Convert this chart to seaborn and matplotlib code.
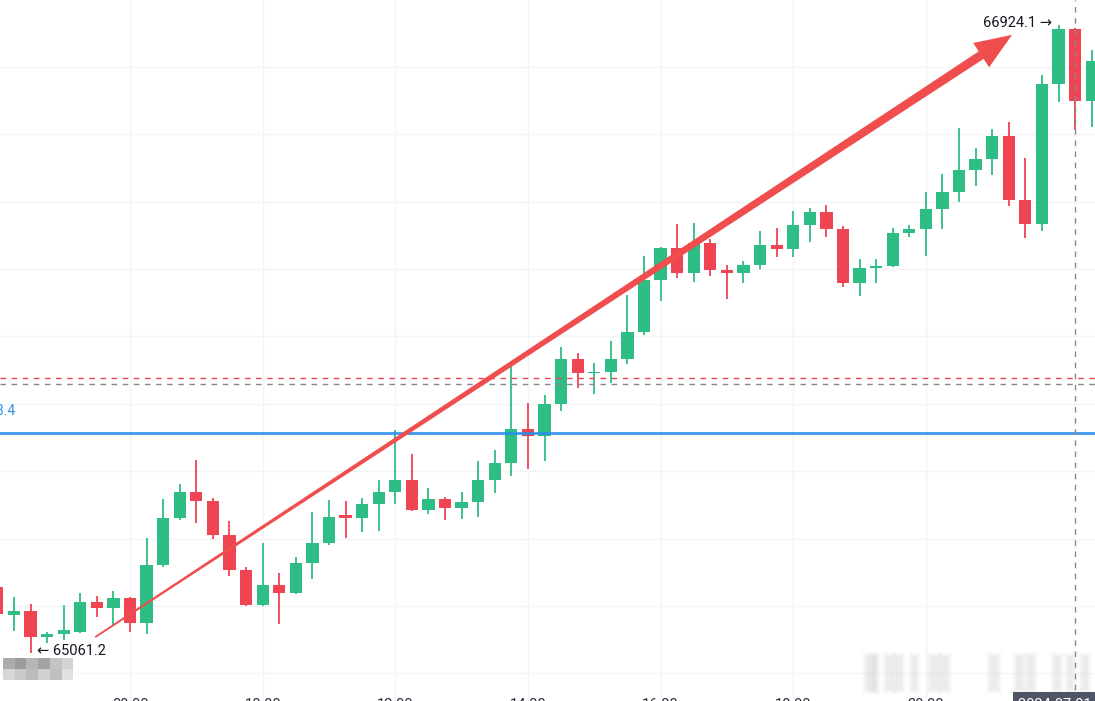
import numpy as np
import pandas as pd
import matplotlib
matplotlib.use("Agg")
import matplotlib.pyplot as plt
from matplotlib.patches import Polygon, Rectangle
from matplotlib.transforms import IdentityTransform, blended_transform_factory
import seaborn as sns

# 15-min свечи, индекс 0 = 08:00
idx = list(range(-8, 59))
opens = [65258, 65175, 65186, 65107, 65118, 65124, 65212, 65193,
         65223, 65151, 65321, 65461, 65539, 65511, 65411, 65307,
         65203, 65262, 65238, 65328, 65388, 65470, 65462, 65503,
         65539, 65573, 65485, 65518, 65492, 65510, 65573, 65625,
         65725, 65705, 65800, 65932, 65891, 65896, 65932, 66014,
         66168, 66262, 66189, 66276, 66197, 66187, 66211, 66271,
         66259, 66331, 66370, 66318, 66158, 66202, 66208, 66306,
         66318, 66377, 66430, 66494, 66527, 66595, 66405, 66333,
         66749, 66911, 66700]
highs = [65266, 65228, 65205, 65123, 65202, 65238, 65231, 65245,
         65226, 65401, 65519, 65561, 65634, 65520, 65452, 65315,
         65386, 65297, 65347, 65479, 65515, 65513, 65520, 65573,
         65722, 65650, 65550, 65525, 65539, 65630, 65662, 65925,
         65802, 65825, 65970, 65950, 65922, 65987, 66124, 66239,
         66266, 66333, 66338, 66288, 66212, 66224, 66313, 66321,
         66372, 66380, 66390, 66328, 66229, 66229, 66321, 66331,
         66428, 66482, 66618, 66558, 66615, 66635, 66529, 66776,
         66924.1, 66915, 66850]
lows = [65168, 65126, 65061.2, 65090, 65099, 65120, 65167, 65143,
        65124, 65116, 65316, 65455, 65448, 65398, 65290, 65200,
        65201, 65146, 65236, 65281, 65380, 65403, 65420, 65423,
        65503, 65483, 65472, 65455, 65459, 65464, 65535, 65586,
        65606, 65631, 65780, 65848, 65829, 65863, 65917, 66003,
        66105, 66173, 66163, 66179, 66110, 66160, 66199, 66237,
        66237, 66281, 66294, 66148, 66120, 66158, 66205, 66294,
        66239, 66318, 66398, 66447, 66479, 66387, 66291, 66313,
        66697, 66613, 66622]
closes = [65176, 65186, 65107, 65117, 65128, 65212, 65193, 65223,
          65151, 65321, 65461, 65539, 65511, 65411, 65307, 65203,
          65262, 65238, 65328, 65388, 65465, 65462, 65503, 65539,
          65573, 65485, 65518, 65492, 65510, 65573, 65625, 65725,
          65705, 65800, 65932, 65891, 65896, 65932, 66014, 66168,
          66262, 66189, 66276, 66197, 66187, 66211, 66271, 66259,
          66331, 66370, 66318, 66158, 66202, 66208, 66306, 66318,
          66377, 66430, 66494, 66527, 66595, 66405, 66333, 66749,
          66911, 66700, 66817]

tick_pos = [0, 8, 16, 24, 32, 40, 48]
tick_labels = ["08:00", "10:00", "12:00", "14:00", "16:00", "18:00", "20:00"]

hi_label, lo_label = 66924.1, 65061.2
alert_price = 65713.4       # синяя линия
last_price = 65877          # красный пунктир
cross_price = 65859         # серый пунктир (перекрестие)
cross_idx = 57
cross_label = "2024-07-01 22:15"

# стрелка-рисунок: начало и конец (свеча, цена)
arrow_x = [-2.1, 53.2]
arrow_y = [65108, 66895]

UP, DOWN = "#2EBD85", "#EF4452"

df = pd.DataFrame({"i": idx, "open": opens, "high": highs, "low": lows, "close": closes})
df["up"] = df["close"] >= df["open"]
df["color"] = np.where(df["up"], UP, DOWN)

sns.set_theme(style="white")
plt.rcParams["font.family"] = ["Roboto", "DejaVu Sans"]

fig = plt.figure(figsize=(10.95, 7.01), dpi=100)
ax = fig.add_axes([0, 0, 1, 1])
ax.set_xlim(-7.84, 58.2)
ax.set_ylim(64918.4, 66998.3)

# сетка
ax.set_yticks(np.arange(65000, 67000, 200))
ax.set_xticks(tick_pos, labels=tick_labels)
ax.grid(True, color="#f3f4f7", lw=1)
ax.tick_params(axis="y", length=0, labelleft=False)
ax.tick_params(axis="x", length=0, pad=-2.3, labelsize=10.5, labelcolor="#2a2e39")
for s in ax.spines.values():
    s.set_visible(False)

# свечи
body = (df["close"] - df["open"]).abs().clip(lower=3)
bottom = df[["open", "close"]].min(axis=1)
ax.vlines(df["i"], df["low"], df["high"], colors=df["color"], lw=1.3, zorder=2)
ax.bar(df["i"], body, bottom=bottom, width=0.74, color=df["color"], lw=0, zorder=3)

# горизонтальные линии
ax.axhline(alert_price, color="#2a8ee8", lw=2, zorder=4, alpha=0.9)
ax.axhline(last_price, color="#EF4452", lw=1, ls=(0, (4, 4)), zorder=4)
ax.axhline(cross_price, color="#868993", lw=1, ls=(0, (4, 4)), zorder=4)
ax.axvline(cross_idx, color="#868993", lw=1, ls=(0, (4, 4)), zorder=4)

ax.text(-6.94, 65778, "65713.4", ha="right", va="center", fontsize=10,
        color="#2a8ee8")

# метки максимума/минимума
ax.text(55.6, hi_label + 5, "66924.1 \u2192", ha="right", va="center",
        fontsize=10.5, color="#131722", zorder=6)
ax.text(-5.6, lo_label + 5, "\u2190 65061.2", ha="left", va="center",
        fontsize=10.5, color="#131722", zorder=6)

# подпись времени перекрестия
tr = blended_transform_factory(ax.transData, ax.transAxes)
ax.text(cross_idx, 0.0045, cross_label, transform=tr, ha="center", va="top",
        fontsize=10.5, color="white", zorder=7,
        bbox=dict(boxstyle="square,pad=0.4", fc="#4f5466", ec="none"))

# размытые квадраты внизу слева
row1 = ["#ababab", "#9c9c9c", "#b6b6b6", "#a3a3a3", "#c5c5c5", "#d3d3d3"]
row2 = ["#d6d6d6", "#c9c9c9", "#bbbbbb", "#d0d0d0", "#bfbfbf", "#e0e0e0"]
for k, (c1, c2) in enumerate(zip(row1, row2)):
    x0 = (3 + 11.7 * k) / 1095
    ax.add_patch(Rectangle((x0, 1 - 669 / 701), 11.7 / 1095, 11 / 701,
                           transform=ax.transAxes, fc=c1, ec="none", zorder=6))
    ax.add_patch(Rectangle((x0, 1 - 680 / 701), 11.7 / 1095, 11 / 701,
                           transform=ax.transAxes, fc=c2, ec="none", zorder=6))

# размытый водяной знак внизу справа (мягкие полосы)
wm_x = [866, 872, 886, 896, 912, 930, 942, 990, 1016, 1028, 1054, 1068, 1082]
wm_w = [8, 5, 7, 6, 5, 9, 6, 8, 7, 6, 6, 5, 6]
for x, w in zip(wm_x, wm_w):
    for grow, a in [(4, 0.12), (2, 0.18), (0, 0.25)]:
        ax.add_patch(Rectangle(((x - grow) / 1095, 1 - (690 + grow) / 701),
                               (w + 2 * grow) / 1095, (34 + 2 * grow) / 701,
                               transform=ax.transAxes, fc="#d8d8d8", ec="none",
                               alpha=a, zorder=1))

# красная стрелка (сужается к началу)
p0 = ax.transData.transform((arrow_x[0], arrow_y[0]))
p1 = ax.transData.transform((arrow_x[1], arrow_y[1]))
d = p1 - p0
u = d / np.hypot(*d)
n = np.array([-u[1], u[0]])
base = p1 - u * 37
pts = [p0 + n * 0.9, base + n * 4.5, base + n * 14.5, p1,
       base - n * 14.5, base - n * 4.5, p0 - n * 0.9]
ax.add_patch(Polygon(pts, closed=True, transform=IdentityTransform(),
                     fc="#F04E4E", ec="none", zorder=5))

fig.savefig("out.png", dpi=100)
